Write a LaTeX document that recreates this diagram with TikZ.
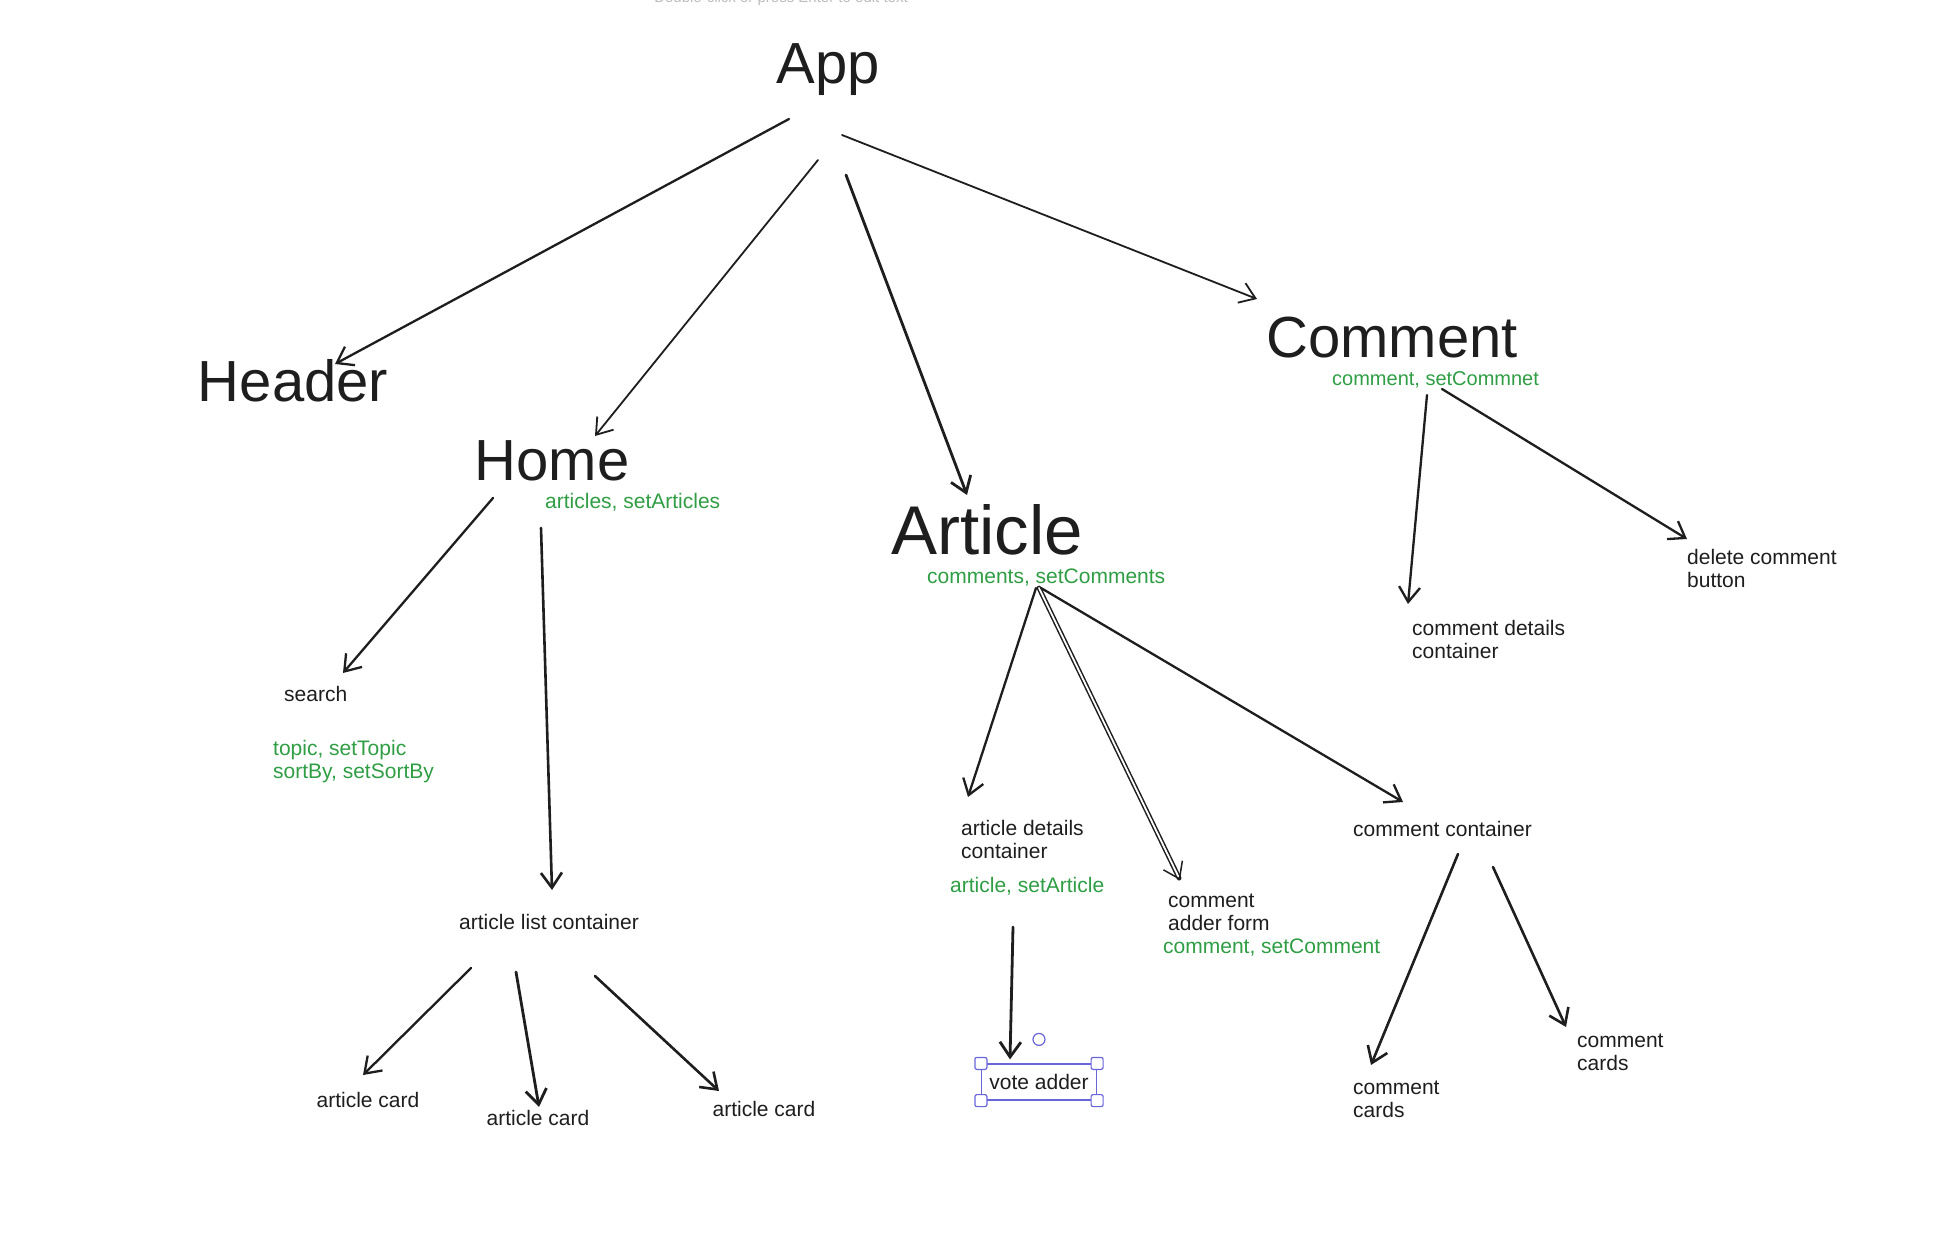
\documentclass[tikz,border=0pt]{standalone}
\usepackage{fontspec}
\setmainfont{Liberation Sans}
\usetikzlibrary{arrows.meta}
\definecolor{ink}{HTML}{1E1E1E}
\definecolor{stategreen}{HTML}{2F9E44}
\definecolor{selblue}{HTML}{6965DB}
\definecolor{hintgray}{HTML}{BDBDBD}
\begin{document}
\begin{tikzpicture}[x=1pt, y=-1pt,
        title/.style={font=\fontsize{58}{60}\selectfont, text=ink, inner sep=0pt, anchor=base},
        part/.style={font=\fontsize{21}{23}\selectfont, text=ink, inner sep=0pt, align=left},
        state/.style={part, text=stategreen},
        hint/.style={font=\fontsize{15}{17}\selectfont, text=hintgray, inner sep=0pt, anchor=base},
        arr/.style={draw=ink, line width=2.3pt, line cap=round, line join=round, -{Straight Barb[length=15pt, width=21pt]}},
        handle/.style={draw=selblue, fill=white, line width=1.2pt, rounded corners=2pt}]
        \fill[white] (0,0) rectangle (1944,1241);
        \useasboundingbox (0,0) rectangle (1944,1241);
        \node[hint] (hint) at (781,3) {Double-click or press Enter to edit text};

        \node[title] (app) at (828,84) {App};
        \node[title] (header) at (293,401) {Header};
        \node[title] (home) at (552,480) {Home};
        \node[title, font=\fontsize{69}{71}\selectfont] (article) at (987,554) {Article};
        \node[title] (comment) at (1392,358) {Comment};

        \node[state, anchor=base west] (homestate) at (545,508) {articles, setArticles};
        \node[state, anchor=base west] (articlestate) at (927,583) {comments, setComments};
        \node[state, anchor=base west, font=\fontsize{20}{22}\selectfont] (commentstate) at (1332,385) {comment, setCommnet};
        \node[state, anchor=north west] (searchstate) at (273,740) {topic, setTopic\\sortBy, setSortBy};
        \node[state, anchor=base west] (detailsstate) at (950,892) {article, setArticle};
        \node[state, anchor=base west] (adderstate) at (1163,953) {comment, setComment};

        \node[part, anchor=base west] (search) at (284,701) {search};
        \node[part, anchor=base] (list) at (549,929) {article list container};
        \foreach \Point/\Name in {(368,1107)/card1, (538,1125)/card2, (764,1116)/card3}{
            \node[part, anchor=base] (\Name) at \Point {article card};
        }
        \node[part, anchor=north west] (details) at (961,820) {article details\\container};
        \node[part, anchor=north west] (adder) at (1168,894) {comment\\adder form};
        \node[part, anchor=base west] (container) at (1353,836) {comment container};
        \node[part, anchor=north west] (cardsL) at (1353,1081) {comment\\cards};
        \node[part, anchor=north west] (cardsR) at (1577,1034) {comment\\cards};
        \node[part, anchor=north west] (cdetails) at (1412,620) {comment details\\container};
        \node[part, anchor=north west] (delete) at (1687,549) {delete comment\\button};
        \node[part, anchor=center, draw=selblue, line width=1.2pt, minimum width=115pt, minimum height=36pt] (vote) at (1039,1082) {vote adder};
        \foreach \Corner in {north west, north east, south west, south east}{
            \draw[handle] (vote.\Corner) +(-6,-6) rectangle +(6,6);
        }
        \draw[selblue, line width=1.2pt] ([shift={(0,-24)}]vote.north) circle[radius=6pt];

        \draw[arr] ([shift={(-39,35)}]app.base) -- ([shift={(42,-37)}]header.base);
        \draw[arr, line width=1.8pt] ([shift={(-10,76)}]app.base) -- ([shift={(43,-44)}]home.base);
        \draw[arr, line width=2.8pt] ([shift={(18,91)}]app.base) -- ([shift={(-20,-59)}]article.base);
        \draw[arr, line width=1.8pt] ([shift={(14,51)}]app.base) -- ([shift={(-135,-59)}]comment.base);

        \draw[arr] ([shift={(-59,18)}]home.base) -- ([shift={(59,-28)}]search.base west);
        \draw[arr, line width=2.6pt] ([shift={(-11,48)}]home.base) -- ([shift={(3,-39)}]list.base);

        \draw[arr] ([shift={(49,34)}]article.base) -- ([shift={(7,-23)}]details.north west);
        \draw[arr, line width=1.5pt, double=white, double distance=1.8pt] ([shift={(52,34)}]article.base) -- ([shift={(12,-14)}]adder.north west);
        \draw[arr] ([shift={(54,34)}]article.base) -- ([shift={(50,-34)}]container.base west);

        \draw[arr] ([shift={(35,37)}]comment.base) -- ([shift={(-4,-16)}]cdetails.north west);
        \draw[arr] ([shift={(50,31)}]comment.base) -- ([shift={(0,-10)}]delete.north west);

        \draw[arr] ([shift={(-78,39)}]list.base) -- ([shift={(-5,-32)}]card1.base);
        \draw[arr, line width=2.8pt] ([shift={(-33,43)}]list.base) -- ([shift={(1,-18)}]card2.base);
        \draw[arr, line width=2.6pt] ([shift={(46,47)}]list.base) -- ([shift={(-45,-25)}]card3.base);

        \draw[arr, line width=2.8pt] ([shift={(52,107)}]details.north west) -- ([shift={(-29,-4)}]vote.north);
        \draw[arr, line width=2.6pt] ([shift={(105,18)}]container.base west) -- ([shift={(18,-16)}]cardsL.north west);
        \draw[arr, line width=2.6pt] ([shift={(140,31)}]container.base west) -- ([shift={(-11,-7)}]cardsR.north west);
\end{tikzpicture}
\end{document}
